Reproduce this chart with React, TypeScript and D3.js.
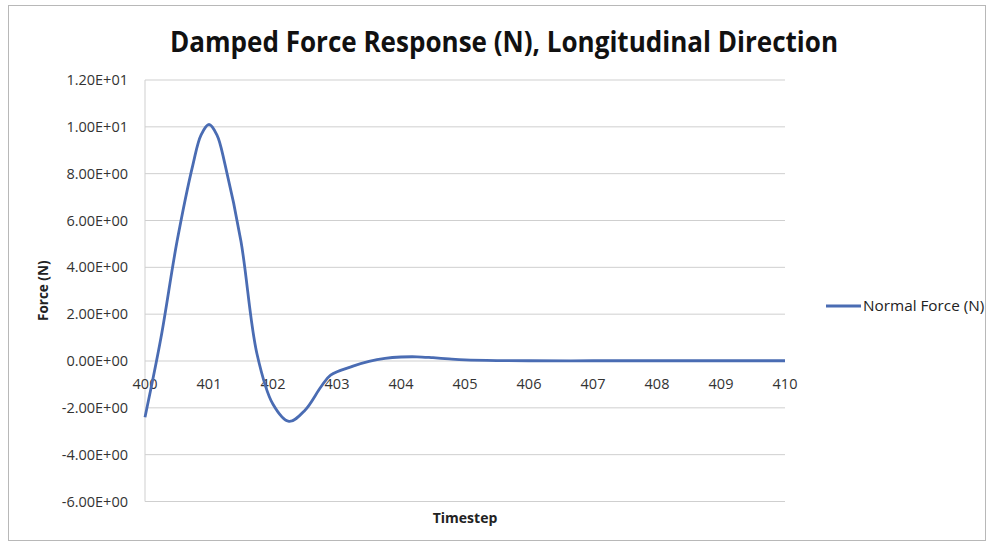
import React from "react";
import * as d3 from "d3";

const timesteps = [400, 400.25, 400.5, 400.75, 400.875, 401, 401.125, 401.25, 401.5, 401.75, 402, 402.25, 402.5, 402.75, 402.9, 403.25, 403.5, 403.75, 404, 404.25, 404.5, 404.75, 405, 405.5, 406, 407, 408, 409, 410];
const forces = [-2.4, 1.0, 5.1, 8.4, 9.65, 10.1, 9.65, 8.4, 5.1, 0.3, -1.85, -2.58, -2.1, -1.1, -0.6, -0.22, -0.02, 0.11, 0.17, 0.18, 0.14, 0.09, 0.05, 0.02, 0.01, 0.01, 0.01, 0.01, 0.01];
const yTicks = [-6, -4, -2, 0, 2, 4, 6, 8, 10, 12];
const xTicks = [400, 401, 402, 403, 404, 405, 406, 407, 408, 409, 410];

const W = 989;
const H = 544;
const left = 145;
const right = 785;
const top = 80;
const bottom = 501.5;

export default function App() {
  const x = d3.scaleLinear().domain([400, 410]).range([left, right]);
  const y = d3.scaleLinear().domain([-6, 12]).range([bottom, top]);
  const pts: [number, number][] = timesteps.map((t, i) => [t, forces[i]]);
  const line = d3
    .line<[number, number]>()
    .x((d) => x(d[0]))
    .y((d) => y(d[1]))
    .curve(d3.curveCatmullRom.alpha(0.5));
  const font = "'Open Sans', sans-serif";
  const fmt = (v: number) => {
    const s = v.toExponential(2).toUpperCase();
    return s.replace(/E([+-])(\d)$/, "E$10$2");
  };
  return (
    <svg width={W} height={H} style={{ position: "absolute", left: 0, top: 0 }}>
      <rect x={0} y={0} width={W} height={H} fill="#fff" />
      <rect x={8.5} y={5.5} width={977} height={535} fill="none" stroke="#b8b8b8" strokeWidth={1} />
      <text
        x={504}
        y={52}
        textAnchor="middle"
        fontFamily={font}
        fontWeight="bold"
        fontSize={28}
        fill="#111"
        textLength={668}
        lengthAdjust="spacingAndGlyphs"
      >
        Damped Force Response (N), Longitudinal Direction
      </text>
      {yTicks.map((t) => (
        <g key={t}>
          <line x1={left} x2={right} y1={y(t)} y2={y(t)} stroke="#cfcfcf" strokeWidth={1} />
          <text x={128} y={y(t) + 5} textAnchor="end" fontFamily={font} fontSize={14.5} fill="#333">
            {fmt(t)}
          </text>
        </g>
      ))}
      <line x1={left} x2={left} y1={top} y2={bottom} stroke="#cfcfcf" strokeWidth={1} />
      {xTicks.map((t) => (
        <text key={t} x={x(t)} y={y(0) + 28} textAnchor="middle" fontFamily={font} fontSize={14.5} fill="#333">
          {t}
        </text>
      ))}
      <path d={line(pts) || ""} fill="none" stroke="#4a6cb3" strokeWidth={2.8} strokeLinejoin="round" />
      <text
        transform={`translate(48, ${(top + bottom) / 2}) rotate(-90)`}
        textAnchor="middle"
        fontFamily={font}
        fontWeight="bold"
        fontSize={13.5}
        fill="#222"
      >
        Force (N)
      </text>
      <text x={465} y={523} textAnchor="middle" fontFamily={font} fontWeight="bold" fontSize={14} fill="#222">
        Timestep
      </text>
      <line x1={826} x2={861} y1={306} y2={306} stroke="#4a6cb3" strokeWidth={2.8} />
      <text x={863} y={311} fontFamily={font} fontSize={15.3} fill="#222">
        Normal Force (N)
      </text>
    </svg>
  );
}
